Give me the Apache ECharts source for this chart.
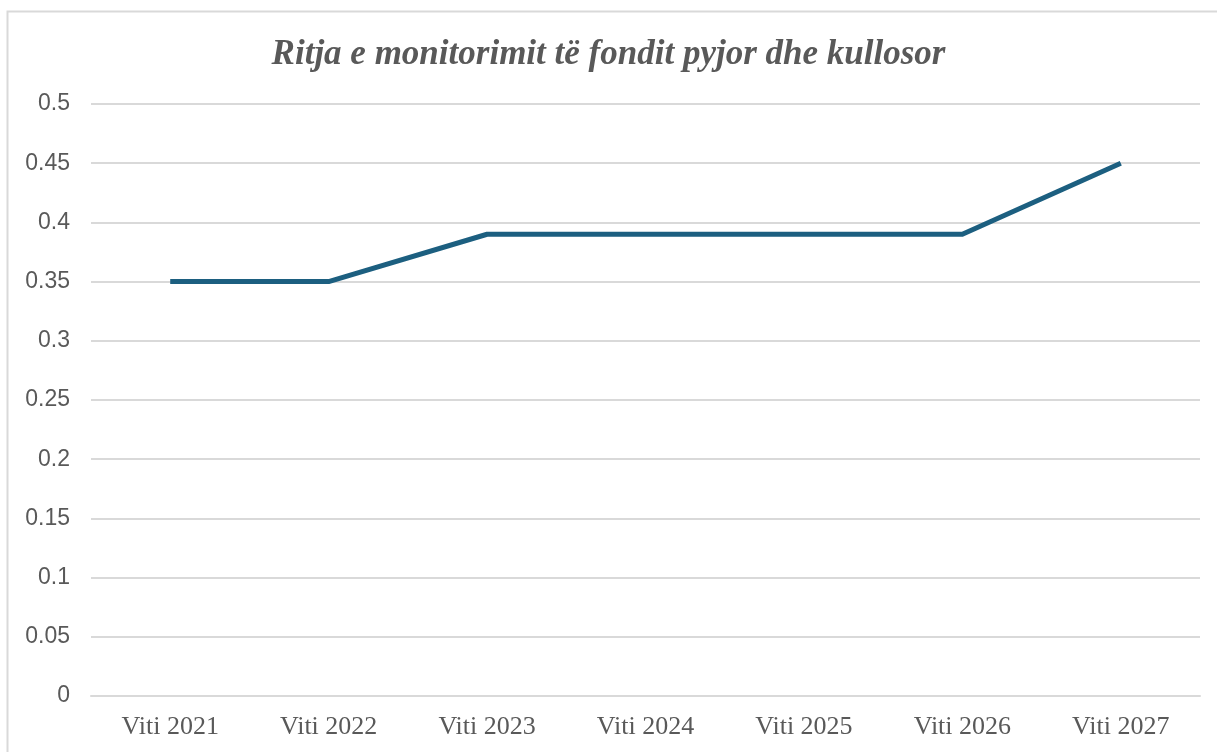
<!DOCTYPE html>
<html>
<head>
<meta charset="utf-8">
<script src="https://cdn.jsdelivr.net/npm/echarts@6/dist/echarts.min.js"></script>
<style>
  html, body { margin: 0; padding: 0; background: #fff; }
  #chart { width: 1217px; height: 752px; }
</style>
</head>
<body>
<div id="chart"></div>
<script>
const categories = ["Viti 2021", "Viti 2022", "Viti 2023", "Viti 2024", "Viti 2025", "Viti 2026", "Viti 2027"];
const values = [0.35, 0.35, 0.39, 0.39, 0.39, 0.39, 0.45];
const yTicks = { min: 0, max: 0.5, interval: 0.05 };

const chart = echarts.init(document.getElementById("chart"), null, { renderer: "canvas" });

chart.setOption({
  backgroundColor: "#fff",
  animation: false,
  graphic: [{
    type: "rect",
    shape: { x: 7.5, y: 11.5, width: 1220, height: 760 },
    style: { fill: "none", stroke: "#d9d9d9", lineWidth: 2 },
    silent: true
  }],
  title: {
    text: "Ritja e monitorimit të fondit pyjor dhe kullosor",
    left: "center",
    top: 32,
    textStyle: {
      fontFamily: "Liberation Serif",
      fontStyle: "italic",
      fontWeight: "bold",
      fontSize: 35,
      color: "#595959"
    }
  },
  grid: { left: 91, right: 17, top: 104, bottom: 56, containLabel: false },
  xAxis: {
    type: "category",
    data: categories,
    boundaryGap: true,
    axisLine: { lineStyle: { color: "#d9d9d9", width: 2 } },
    axisTick: { show: false },
    axisLabel: {
      fontFamily: "Liberation Serif",
      fontSize: 26,
      color: "#595959",
      margin: 18
    }
  },
  yAxis: {
    type: "value",
    min: yTicks.min,
    max: yTicks.max,
    interval: yTicks.interval,
    axisLine: { show: false },
    axisTick: { show: false },
    axisLabel: {
      fontFamily: "Liberation Sans",
      fontSize: 23,
      color: "#595959",
      margin: 21,
      formatter: (v) => String(Number(v.toFixed(2)))
    },
    splitLine: { lineStyle: { color: "#d9d9d9", width: 2 } }
  },
  series: [{
    type: "line",
    data: values,
    symbol: "none",
    lineStyle: { color: "#1c5f80", width: 5, join: "round" },
    z: 3
  }]
});
</script>
</body>
</html>
